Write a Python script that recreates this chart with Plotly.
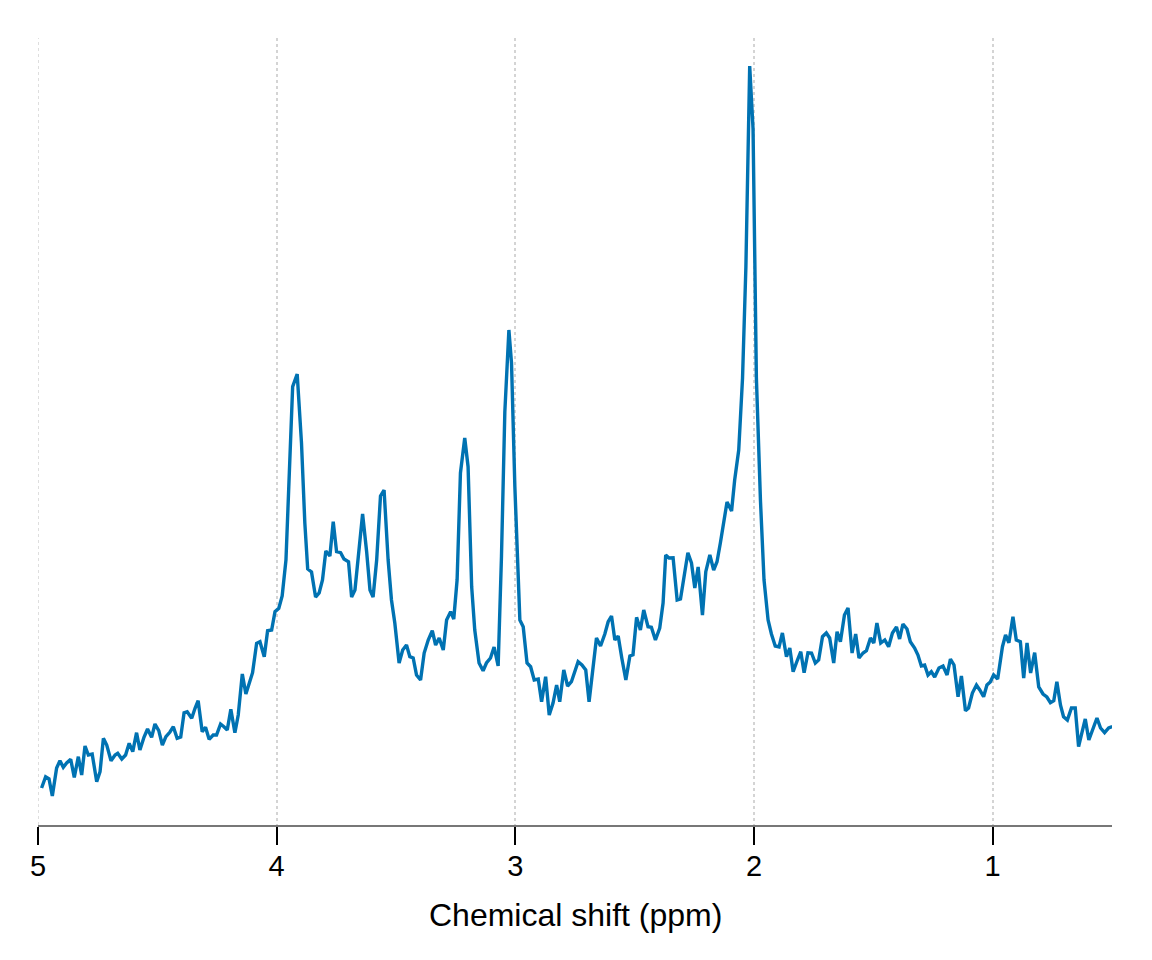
import plotly.graph_objects as go

# Chemical shift (ppm)
ppm = [4.985, 4.968, 4.954, 4.940, 4.922, 4.908, 4.894, 4.880, 4.863, 4.848,
       4.831, 4.817, 4.803, 4.789, 4.773, 4.754, 4.740, 4.726, 4.712, 4.694,
       4.677, 4.666, 4.649, 4.633, 4.618, 4.603, 4.587, 4.573, 4.556, 4.541,
       4.524, 4.510, 4.494, 4.479, 4.464, 4.447, 4.433, 4.417, 4.402, 4.388,
       4.375, 4.356, 4.342, 4.329, 4.312, 4.298, 4.283, 4.266, 4.252, 4.235,
       4.221, 4.207, 4.192, 4.175, 4.161, 4.144, 4.129, 4.115, 4.101, 4.084,
       4.070, 4.052, 4.038, 4.021, 4.007, 3.991, 3.977, 3.961, 3.947, 3.933,
       3.914, 3.896, 3.882, 3.870, 3.854, 3.837, 3.822, 3.808, 3.794, 3.777,
       3.763, 3.749, 3.732, 3.718, 3.699, 3.686, 3.672, 3.658, 3.640, 3.623,
       3.609, 3.596, 3.581, 3.565, 3.550, 3.533, 3.519, 3.505, 3.487, 3.472,
       3.456, 3.442, 3.428, 3.414, 3.397, 3.382, 3.365, 3.348, 3.334, 3.319,
       3.302, 3.288, 3.271, 3.258, 3.244, 3.230, 3.212, 3.198, 3.183, 3.170,
       3.152, 3.135, 3.121, 3.104, 3.089, 3.072, 3.058, 3.044, 3.027, 3.016,
       3.002, 2.981, 2.967, 2.951, 2.936, 2.921, 2.904, 2.890, 2.873, 2.858,
       2.842, 2.827, 2.814, 2.797, 2.781, 2.765, 2.754, 2.737, 2.721, 2.705,
       2.691, 2.674, 2.660, 2.643, 2.625, 2.611, 2.597, 2.583, 2.569, 2.554,
       2.537, 2.520, 2.507, 2.492, 2.476, 2.462, 2.444, 2.430, 2.413, 2.395,
       2.381, 2.370, 2.356, 2.339, 2.322, 2.308, 2.290, 2.277, 2.262, 2.248,
       2.234, 2.216, 2.202, 2.185, 2.169, 2.155, 2.141, 2.127, 2.113, 2.094,
       2.081, 2.064, 2.048, 2.034, 2.018, 2.004, 1.990, 1.973, 1.958, 1.941,
       1.927, 1.911, 1.895, 1.881, 1.864, 1.850, 1.836, 1.818, 1.804, 1.790,
       1.774, 1.759, 1.743, 1.729, 1.713, 1.697, 1.683, 1.666, 1.652, 1.638,
       1.621, 1.606, 1.589, 1.574, 1.560, 1.543, 1.529, 1.512, 1.498, 1.485,
       1.469, 1.452, 1.436, 1.420, 1.403, 1.390, 1.376, 1.359, 1.345, 1.327,
       1.313, 1.299, 1.285, 1.271, 1.257, 1.243, 1.225, 1.208, 1.191, 1.177,
       1.162, 1.145, 1.131, 1.114, 1.101, 1.085, 1.068, 1.054, 1.038, 1.024,
       1.010, 0.996, 0.979, 0.959, 0.946, 0.932, 0.915, 0.901, 0.884, 0.870,
       0.856, 0.841, 0.824, 0.807, 0.789, 0.773, 0.758, 0.744, 0.731, 0.716,
       0.703, 0.687, 0.670, 0.654, 0.640, 0.626, 0.612, 0.597, 0.580, 0.563,
       0.548, 0.531, 0.514, 0.499]

# Intensity (arbitrary units)
intensity = [1.20, 2.33, 2.13, 0.40, 3.20, 3.93, 3.27, 3.70, 4.07, 2.27,
             4.33, 2.50, 5.40, 4.50, 4.60, 1.83, 2.83, 6.17, 5.50, 3.93,
             4.50, 4.67, 4.10, 4.50, 5.67, 4.83, 6.73, 5.00, 6.27, 7.10,
             6.27, 7.60, 6.93, 5.50, 6.33, 6.80, 7.33, 6.17, 6.30, 8.73,
             8.83, 8.17, 9.17, 9.93, 6.83, 7.27, 6.07, 6.50, 6.50, 7.60,
             7.33, 7.00, 9.07, 6.73, 8.50, 12.60, 10.60, 11.67, 12.73, 15.67,
             15.83, 14.33, 16.93, 17.00, 18.83, 19.17, 20.40, 24.00, 33.00, 41.33,
             42.60, 35.70, 27.70, 23.10, 22.80, 20.30, 20.70, 22.00, 24.90, 24.40,
             27.83, 24.83, 24.73, 24.10, 23.83, 20.30, 21.00, 24.70, 28.60, 24.83,
             21.00, 20.30, 24.00, 30.40, 31.00, 24.00, 20.00, 17.70, 13.70, 15.00,
             15.50, 14.33, 14.20, 12.50, 12.00, 14.70, 16.00, 16.93, 15.50, 16.20,
             15.00, 18.00, 18.83, 18.10, 22.00, 32.70, 36.20, 33.33, 21.33, 17.00,
             13.70, 12.93, 13.70, 14.20, 15.30, 13.40, 24.40, 38.80, 47.00, 43.70,
             31.33, 18.00, 17.33, 13.70, 13.33, 12.00, 12.10, 9.83, 12.33, 8.50,
             9.70, 11.50, 9.83, 13.00, 11.40, 11.83, 12.70, 13.83, 13.50, 13.00,
             9.83, 13.33, 16.20, 15.40, 16.60, 17.83, 18.40, 16.00, 16.40, 14.20,
             12.00, 14.40, 14.53, 18.27, 17.00, 19.00, 17.33, 17.27, 16.00, 17.20,
             19.70, 24.50, 24.20, 24.23, 20.00, 20.10, 22.70, 24.73, 23.70, 21.20,
             23.30, 18.50, 22.83, 24.50, 23.00, 23.83, 25.70, 27.80, 29.80, 28.90,
             32.00, 35.00, 42.20, 53.30, 73.40, 67.10, 42.20, 30.00, 22.00, 18.00,
             16.60, 15.40, 15.30, 16.70, 14.33, 15.20, 12.83, 14.00, 14.83, 12.73,
             14.73, 14.70, 13.70, 14.00, 16.33, 16.70, 16.20, 13.70, 16.83, 15.83,
             18.50, 19.20, 14.70, 16.60, 14.20, 14.70, 14.93, 16.20, 15.70, 17.70,
             15.70, 16.00, 15.33, 16.70, 17.30, 16.10, 17.60, 17.10, 15.83, 15.20,
             14.50, 13.40, 13.50, 12.50, 12.83, 12.30, 13.20, 13.40, 12.50, 14.10,
             13.50, 10.33, 12.40, 8.93, 9.20, 10.70, 11.50, 11.00, 10.33, 11.50,
             11.80, 12.50, 12.10, 15.33, 16.50, 15.73, 18.33, 16.00, 15.83, 12.20,
             15.70, 12.70, 14.73, 11.30, 10.60, 10.30, 9.73, 9.93, 11.83, 9.50,
             8.33, 8.00, 9.20, 9.20, 5.33, 6.73, 8.10, 6.00, 7.20, 8.20,
             7.20, 6.73, 7.20, 7.33]

tick_vals = [5, 4, 3, 2, 1]
tick_text = ["5", "4", "3", "2", "1"]
x_title = "Chemical shift (ppm)"

FONT = "Liberation Sans, Arial, Helvetica, sans-serif"
GRID = "#d4d4d4"

fig = go.Figure()
fig.add_trace(go.Scatter(
    x=ppm, y=intensity, mode="lines",
    line=dict(color="#0072B2", width=3.4),
    hoverinfo="skip", showlegend=False,
))

fig.update_layout(
    width=1152, height=960,
    margin=dict(l=30, r=48, t=30, b=143),
    paper_bgcolor="white", plot_bgcolor="white",
    font=dict(family=FONT, color="black"),
    showlegend=False,
)
fig.update_xaxes(
    range=[5, 0.5], autorange=False,
    tickmode="array", tickvals=tick_vals, ticktext=tick_text,
    tickfont=dict(size=29, family=FONT, color="black"),
    ticks="outside", ticklen=18, tickwidth=1.5, tickcolor="black",
    ticklabelstandoff=-4,
    showline=True, linecolor="#777777", linewidth=1.5,
    showgrid=True, gridcolor=GRID, gridwidth=1.5, griddash="dot",
    zeroline=False,
)
fig.update_yaxes(range=[-2.5, 76.2], autorange=False, visible=False,
                 showgrid=False, zeroline=False)

# gridline at the left edge (ppm = 5), which plotly hides at the plot border
fig.add_shape(type="line", xref="x", yref="paper", x0=tick_vals[0], x1=tick_vals[0],
              y0=0, y1=1, line=dict(color=GRID, width=1.5, dash="dot"), layer="below")

fig.add_annotation(
    text=x_title, xref="paper", yref="paper", x=0.5, y=-90 / 787,
    xanchor="center", yanchor="middle", showarrow=False,
    font=dict(size=32, family=FONT, color="black"),
)

fig.write_html("out.html")
